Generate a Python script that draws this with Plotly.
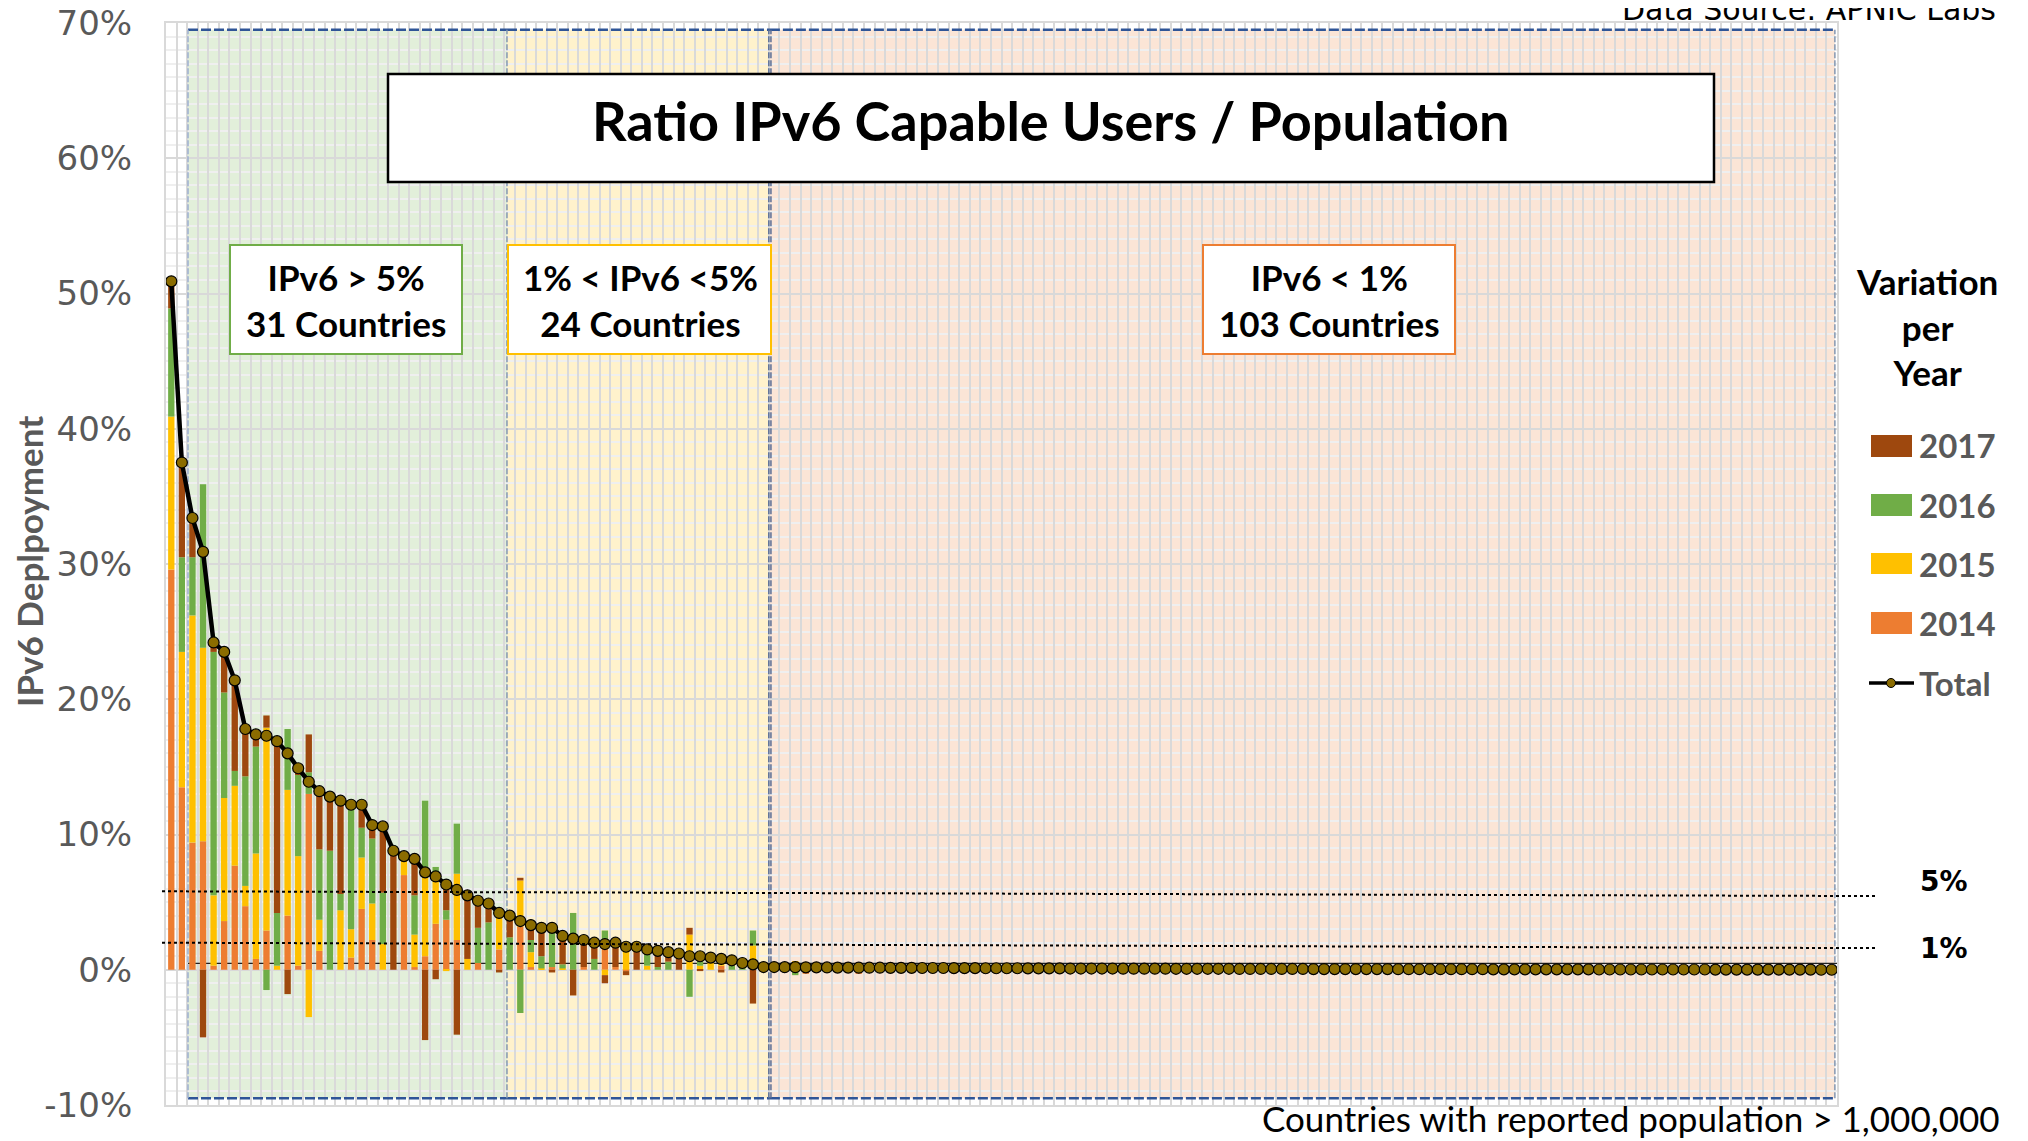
import plotly.graph_objects as go

# countries ranked by IPv6 deployment (158 countries with population > 1M)
rank = list(range(158))

# yearly variation (percentage points), ranks 0-56 read individually, 57-157 are the tiny tail
var_2014 = [
    29.6, 13.5, 9.4, 9.5, 0.3, 3.6, 7.7, 4.7, 0.8, 2.9,
    0.0, 4.0, 0.3, 13.0, 1.4, 0.0, 0.0, 0.9, 4.5, 2.2,
    0.0, 0.0, 7.0, 0.2, 1.0, 3.4, 3.7, 2.2, 0.0, 0.5,
    0.0, 1.5, 0.0, 3.2, 0.2, 0.0, 0.2, 0.0, 0.0, 0.2,
    0.0, 1.7, 0.2, -0.1, 0.0, 0.0, 0.0, 0.0, 0.0, 0.0,
    0.0, 0.0, 0.3, 0.0, 0.0, 0.3, 0.05,
    0.08, 0.07, 0.55, -0.30, 0.07, 0.07, 0.06, 0.06, -0.30, 0.06,
    0.06, 0.05, 0.05, 0.05, 0.05, 0.05, 0.05, 0.04, 0.04, 0.04,
    0.04, 0.04, 0.04, 0.04, 0.04, 0.04, 0.04, 0.04, 0.03, 0.03,
    0.03, 0.03, 0.03, 0.03, 0.03, 0.03, 0.03, 0.03, 0.03, 0.03,
    0.03, 0.03, 0.03, 0.03, 0.02, 0.02, 0.02, 0.02, 0.02, 0.02,
    0.02, 0.02, 0.02, 0.02, 0.02, 0.02, 0.02, 0.02, 0.02, 0.02,
    0.02, 0.02, 0.02, 0.02, 0.02, 0.02, 0.02, 0.02, 0.01, 0.01,
    0.01, 0.01, 0.01, 0.01, 0.01, 0.01, 0.01, 0.01, 0.01, 0.01,
    0.01, 0.01, 0.01, 0.01, 0.01, 0.01, 0.01, 0.01, 0.01, 0.00,
    0.00, 0.00, 0.00, 0.00, 0.00, 0.00, 0.00, 0.00, 0.00, 0.00, 0.00,
]
var_2015 = [
    11.3, 10.0, 16.8, 14.3, 5.2, 9.1, 5.9, 1.5, 7.8, 15.0,
    0.3, 9.3, 8.1, -3.5, 2.3, 0.0, 4.4, 2.1, 3.8, 2.7,
    1.9, 0.0, 1.1, 2.4, 5.9, 3.7, -0.1, 4.9, 0.8, 0.0,
    0.0, 2.4, 0.0, 3.4, 1.1, 0.1, 0.0, 0.1, 0.0, 0.0,
    0.0, -0.4, 0.0, 1.5, 0.0, 0.3, 0.0, 0.0, 0.0, 2.6,
    0.3, 0.8, 0.2, 0.0, 0.0, 1.5, 0.05,
    0.05, 0.05, 0.04, 0.20, 0.04, 0.04, 0.04, 0.04, 0.20, 0.04,
    0.04, 0.04, 0.04, 0.04, 0.03, 0.03, 0.03, 0.03, 0.03, 0.03,
    0.03, 0.03, 0.03, 0.03, 0.03, 0.03, 0.03, 0.03, 0.03, 0.03,
    0.03, 0.03, 0.02, 0.02, 0.02, 0.02, 0.02, 0.02, 0.02, 0.02,
    0.02, 0.02, 0.02, 0.02, 0.02, 0.02, 0.02, 0.02, 0.02, 0.02,
    0.02, 0.01, 0.01, 0.01, 0.01, 0.01, 0.01, 0.01, 0.01, 0.01,
    0.01, 0.01, 0.01, 0.01, 0.01, 0.01, 0.01, 0.01, 0.01, 0.01,
    0.01, 0.01, 0.01, 0.01, 0.01, 0.01, 0.01, 0.01, 0.01, 0.01,
    0.01, 0.01, 0.01, 0.01, 0.01, 0.01, 0.01, 0.00, 0.00, 0.00,
    0.00, 0.00, 0.00, 0.00, 0.00, 0.00, 0.00, 0.00, 0.00, 0.00, 0.00,
]
var_2016 = [
    8.0, 7.0, 4.3, 12.1, 18.0, 7.8, 1.1, 8.1, 7.9, -1.5,
    3.9, 4.5, 6.0, 1.6, 5.2, 8.8, 1.2, 9.0, 2.2, 4.8,
    3.8, 0.0, 0.0, 2.9, 5.6, 0.5, 0.7, 3.7, 0.0, 2.6,
    3.5, 0.5, 2.4, -3.2, 0.9, 0.9, 3.1, 0.3, 4.2, 0.0,
    0.8, 1.2, 0.0, 0.2, 0.0, 1.0, 0.2, 0.6, 0.0, -2.0,
    0.6, 0.0, 0.3, 0.3, 0.3, 1.1, 0.05,
    0.04, 0.04, -0.40, 0.15, 0.04, 0.03, 0.03, 0.03, 0.15, 0.03,
    0.03, 0.03, 0.03, 0.03, 0.03, 0.03, 0.03, 0.03, 0.03, 0.03,
    0.02, 0.02, 0.02, 0.02, 0.02, 0.02, 0.02, 0.02, 0.02, 0.02,
    0.02, 0.02, 0.02, 0.02, 0.02, 0.02, 0.02, 0.02, 0.01, 0.01,
    0.01, 0.01, 0.01, 0.01, 0.01, 0.01, 0.01, 0.01, 0.01, 0.01,
    0.01, 0.01, 0.01, 0.01, 0.01, 0.01, 0.01, 0.01, 0.01, 0.01,
    0.01, 0.01, 0.01, 0.01, 0.01, 0.01, 0.01, 0.01, 0.01, 0.01,
    0.01, 0.01, 0.01, 0.01, 0.01, 0.01, 0.01, 0.01, 0.00, 0.00,
    0.00, 0.00, 0.00, 0.00, 0.00, 0.00, 0.00, 0.00, 0.00, 0.00,
    0.00, 0.00, 0.00, 0.00, 0.00, 0.00, 0.00, 0.00, 0.00, 0.00, 0.00,
]
var_2017 = [
    2.0, 7.0, 2.9, -5.0, 0.7, 3.0, 6.7, 3.5, 0.9, 0.9,
    12.7, -1.8, 0.5, 2.8, 4.3, 4.0, 6.9, 0.2, 1.7, 1.0,
    5.0, 8.8, 0.4, 2.7, -5.2, -0.7, 2.0, -4.8, 4.7, 2.0,
    1.4, -0.2, 1.6, 0.2, 1.1, 2.1, -0.2, 2.1, -1.9, 2.0,
    1.2, -0.6, 1.8, -0.3, 1.7, 0.2, 1.2, 0.7, 1.2, 0.5,
    -0.1, 0.0, -0.2, 0.4, 0.2, -2.5, 0.05,
    0.03, 0.03, 0.00, 0.13, 0.03, 0.03, 0.03, 0.03, 0.10, 0.02,
    0.02, 0.02, 0.02, 0.02, 0.02, 0.02, 0.02, 0.02, 0.02, 0.02,
    0.02, 0.02, 0.02, 0.02, 0.01, 0.01, 0.01, 0.01, 0.01, 0.01,
    0.01, 0.01, 0.01, 0.01, 0.01, 0.01, 0.01, 0.01, 0.01, 0.01,
    0.01, 0.01, 0.01, 0.01, 0.01, 0.01, 0.01, 0.01, 0.01, 0.01,
    0.01, 0.01, 0.01, 0.01, 0.01, 0.01, 0.01, 0.01, 0.01, 0.01,
    0.01, 0.01, 0.00, 0.00, 0.00, 0.00, 0.00, 0.00, 0.00, 0.00,
    0.00, 0.00, 0.00, 0.00, 0.00, 0.00, 0.00, 0.00, 0.00, 0.00,
    0.00, 0.00, 0.00, 0.00, 0.00, 0.00, 0.00, 0.00, 0.00, 0.00,
    0.00, 0.00, 0.00, 0.00, 0.00, 0.00, 0.00, 0.00, 0.00, 0.00, 0.00,
]
total = [
    50.9, 37.5, 33.4, 30.9, 24.2, 23.5, 21.4, 17.8, 17.4, 17.3,
    16.9, 16.0, 14.9, 13.9, 13.2, 12.8, 12.5, 12.2, 12.2, 10.7,
    10.6, 8.8, 8.4, 8.2, 7.2, 6.9, 6.3, 5.9, 5.5, 5.1,
    4.9, 4.2, 4.0, 3.6, 3.3, 3.1, 3.1, 2.5, 2.3, 2.2,
    2.0, 1.9, 2.0, 1.7, 1.7, 1.5, 1.4, 1.3, 1.2, 1.0,
    1.0, 0.9, 0.8, 0.7, 0.5, 0.4, 0.2,
    0.20, 0.19, 0.19, 0.18, 0.18, 0.17, 0.16, 0.16, 0.15, 0.15,
    0.15, 0.14, 0.14, 0.14, 0.13, 0.13, 0.13, 0.12, 0.12, 0.12,
    0.11, 0.11, 0.11, 0.11, 0.10, 0.10, 0.10, 0.10, 0.09, 0.09,
    0.09, 0.09, 0.09, 0.08, 0.08, 0.08, 0.08, 0.08, 0.07, 0.07,
    0.07, 0.07, 0.07, 0.07, 0.06, 0.06, 0.06, 0.06, 0.06, 0.06,
    0.06, 0.05, 0.05, 0.05, 0.05, 0.05, 0.05, 0.05, 0.05, 0.04,
    0.04, 0.04, 0.04, 0.04, 0.04, 0.04, 0.04, 0.04, 0.03, 0.03,
    0.03, 0.03, 0.03, 0.03, 0.03, 0.03, 0.03, 0.03, 0.02, 0.02,
    0.02, 0.02, 0.02, 0.02, 0.02, 0.02, 0.02, 0.02, 0.02, 0.01,
    0.01, 0.01, 0.01, 0.01, 0.01, 0.01, 0.01, 0.01, 0.01, 0.00, 0.00,
]

years = ["2014", "2015", "2016", "2017"]
year_values = [var_2014, var_2015, var_2016, var_2017]
year_colors = ["#ED7D31", "#FFC000", "#70AD47", "#9E480E"]

y_ticks = [-10, 0, 10, 20, 30, 40, 50, 60, 70]
y_ticktext = ["-10%", "0%", "10%", "20%", "30%", "40%", "50%", "60%", "70%"]

# page geometry: the page body adds an 8px offset, so margins are shifted by it
W, H = 2028, 1141
OFF = 8
L, T = 166 - OFF, 23 - OFF
PW, PH = 1671, 1082
R, B = W - L - PW, H - T - PH


def px(x):
    # screen pixel -> paper x
    return (x - OFF - L) / PW


def py(y):
    # screen pixel -> paper y
    return (T + PH - (y - OFF)) / PH


fig = go.Figure()

for name, vals, col in zip(years, year_values, year_colors):
    fig.add_trace(go.Bar(x=rank, y=vals, name=name, marker_color=col,
                         marker_line_width=0, showlegend=False))

fig.add_trace(go.Scatter(
    x=rank, y=total, name="Total", mode="lines+markers",
    line=dict(color="black", width=4.5),
    marker=dict(size=11, color="#8B6C00", line=dict(color="black", width=1.2)),
    showlegend=False))

shapes = []
# deployment bands
bands = [(1.58, 31.74, "#E2EFDA"), (31.74, 56.6, "#FFF2CC"), (56.6, 157.3, "#FBE5D6")]
for x0, x1, fill in bands:
    shapes.append(dict(type="rect", xref="x", yref="y", x0=x0, x1=x1, y0=-9.5, y1=69.5,
                       fillcolor=fill, line_width=0, layer="below"))
    for yy in (69.5, -9.5):
        shapes.append(dict(type="line", xref="x", yref="y", x0=x0, x1=x1, y0=yy, y1=yy,
                           line=dict(color="#2F5597", width=2.5, dash="10px,3px"), layer="between"))
for xx, col in [(1.58, "#9DB0D0"), (31.74, "#8497B0"), (56.5, "#5B6F96"), (56.7, "#5B6F96"), (157.3, "#8497B0")]:
    shapes.append(dict(type="line", xref="x", yref="y", x0=xx, x1=xx, y0=-9.5, y1=69.5,
                       line=dict(color=col, width=1.5, dash="6px,2px"), layer="between"))

# thin baseline
shapes.append(dict(type="line", xref="x", yref="y", x0=1.58, x1=157.5, y0=0.47, y1=0.47,
                   line=dict(color="#222222", width=1.2), layer="between"))

# 5% and 1% guide lines
shapes.append(dict(type="line", xref="paper", yref="paper", x0=px(162), x1=px(1876),
                   y0=(5.8 + 10) / 80, y1=(5.45 + 10) / 80,
                   line=dict(color="black", width=2, dash="dot"), layer="above"))
shapes.append(dict(type="line", xref="paper", yref="paper", x0=px(162), x1=px(1876),
                   y0=(2.0 + 10) / 80, y1=(1.6 + 10) / 80,
                   line=dict(color="black", width=2, dash="dot"), layer="above"))

# title box and band labels
shapes.append(dict(type="rect", xref="paper", yref="paper", x0=px(388), x1=px(1714),
                   y0=py(182), y1=py(74), fillcolor="white",
                   line=dict(color="black", width=2.5), layer="above"))
boxes = [(230, 462, "#70AD47"), (508, 771, "#FFC000"), (1203, 1455, "#ED7D31")]
for x0, x1, col in boxes:
    shapes.append(dict(type="rect", xref="paper", yref="paper", x0=px(x0), x1=px(x1),
                       y0=py(354), y1=py(245), fillcolor="white",
                       line=dict(color=col, width=2), layer="above"))

# custom legend swatches
swatch_y = [(435, 457), (494, 516), (553, 574), (612, 634)]
for (y0, y1), col in zip(swatch_y, year_colors[::-1]):
    shapes.append(dict(type="rect", xref="paper", yref="paper", x0=px(1871), x1=px(1912),
                       y0=py(y1), y1=py(y0), fillcolor=col, line_width=0))
shapes.append(dict(type="line", xref="paper", yref="paper", x0=px(1869), x1=px(1914),
                   y0=py(683), y1=py(683), line=dict(color="black", width=3.5)))
shapes.append(dict(type="circle", xref="paper", yref="paper", x0=px(1886.5), x1=px(1895.5),
                   y0=py(687.5), y1=py(678.5), fillcolor="#8B6C00",
                   line=dict(color="black", width=1)))

CAL = "Lato, Carlito, Calibri, sans-serif"
GOTH = "DejaVu Sans, sans-serif"

annotations = [
    dict(text="<b>Ratio IPv6 Capable Users / Population</b>", x=px(1051), y=py(120),
         font=dict(family=CAL, size=54, color="black")),
    dict(text="<b>IPv6 > 5%<br>31 Countries</b>", x=px(346), y=py(300),
         font=dict(family=CAL, size=35, color="black")),
    dict(text="<b>1% < IPv6 <5%<br>24 Countries</b>", x=px(640), y=py(300),
         font=dict(family=CAL, size=35, color="black")),
    dict(text="<b>IPv6 < 1%<br>103 Countries</b>", x=px(1329), y=py(300),
         font=dict(family=CAL, size=35, color="black")),
    dict(text="<b>Variation<br>per<br>Year</b>", x=px(1927), y=py(326),
         font=dict(family=CAL, size=35, color="black")),
    dict(text="<b>IPv6 Deplpoyment</b>", x=px(29), y=py(562), textangle=-90,
         font=dict(family=CAL, size=35, color="#595959")),
    dict(text="<b>5%</b>", x=px(1944), y=py(881), font=dict(family=GOTH, size=28, color="black")),
    dict(text="<b>1%</b>", x=px(1944), y=py(948), font=dict(family=GOTH, size=28, color="black")),
    dict(text="Countries with reported population > 1,000,000", x=px(2002), y=py(1118),
         xanchor="right", font=dict(family=CAL, size=35, color="black")),
    dict(text="Data Source: APNIC Labs", x=px(1998), y=py(10), xanchor="right",
         font=dict(family=GOTH, size=30, color="black")),
]
legend_labels = ["2017", "2016", "2015", "2014", "Total"]
legend_y = [445, 505, 564, 623, 683]
for lab, yy in zip(legend_labels, legend_y):
    annotations.append(dict(text="<b>" + lab + "</b>", x=px(1917), y=py(yy), xanchor="left",
                            font=dict(family=CAL, size=33, color="#595959")))
for a in annotations:
    a.update(xref="paper", yref="paper", showarrow=False)
    a.setdefault("xanchor", "center")
    a.setdefault("yanchor", "middle")

fig.update_layout(
    width=W, height=H,
    margin=dict(l=L, r=R, t=T, b=B, autoexpand=False),
    paper_bgcolor="white", plot_bgcolor="white",
    barmode="relative", bargap=0.4,
    shapes=shapes, annotations=annotations,
    showlegend=False,
)
fig.update_xaxes(range=[-0.5, 157.5], tick0=0.5, dtick=1, showticklabels=False, ticks="",
                 showgrid=True, gridcolor="#D9D9D9", gridwidth=2, zeroline=False, automargin=False,
                 showline=True, linecolor="#D9D9D9", linewidth=2, mirror=True)
fig.update_yaxes(range=[-10, 70], tickvals=y_ticks, ticktext=y_ticktext, ticks="",
                 tickfont=dict(family=GOTH, size=34, color="#595959"), ticklabelstandoff=25,
                 ticklabeloverflow="allow",
                 showgrid=True, gridcolor="#D9D9D9", gridwidth=2, zeroline=False, automargin=False,
                 minor=dict(dtick=1, showgrid=True, gridcolor="#EFEFEF", gridwidth=1.5),
                 showline=True, linecolor="#D9D9D9", linewidth=2, mirror=True)

fig.write_html("out.html")
